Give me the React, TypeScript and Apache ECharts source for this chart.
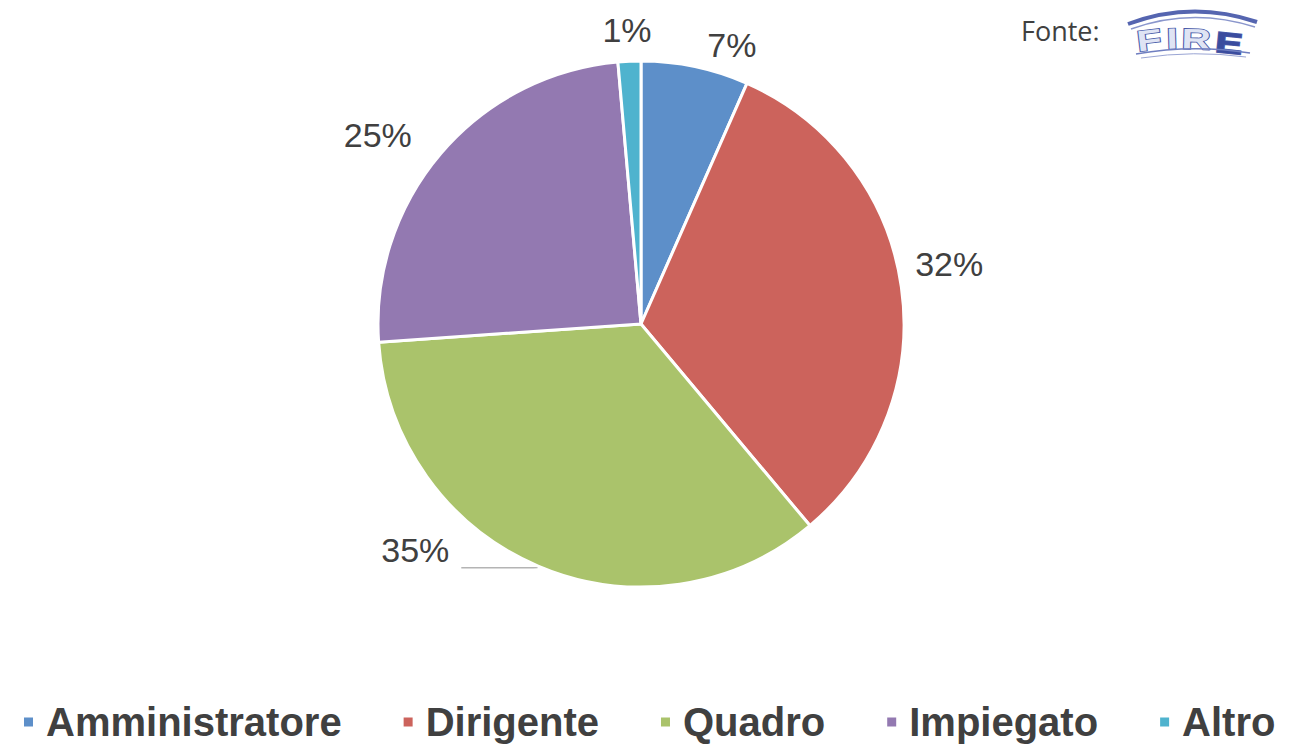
import React, { useEffect, useRef } from "react";
import * as echarts from "echarts";

const categories = ["Amministratore", "Dirigente", "Quadro", "Impiegato", "Altro"];
const values = [6.6, 32.3, 35.0, 24.7, 1.4];
const colors = ["#5D8FC9", "#CC635C", "#AAC36B", "#9379B1", "#4FB3CE"];
const sourceLabel = "Fonte:";
const logoLetters = ["F", "I", "R", "E"];

// label nudges (dx, dy) in pixels, per slice
const labelShift: number[][] = [[3, -2], [-11, -20], [0, -18], [-9, -5], [28, -11]];

export default function App() {
  const ref = useRef<HTMLDivElement>(null);
  useEffect(() => {
    if (!ref.current) return;
    const chart = echarts.init(ref.current, undefined, { renderer: "svg" });
    const data = categories.map((name, i) => {
      const item: any = { name, value: values[i], itemStyle: { color: colors[i] } };
      if (i === 2) {
        item.labelLine = {
          show: true,
          length: 2,
          length2: 76,
          smooth: 0.3,
          lineStyle: { color: "#b4b4b4", width: 1.5 },
        };
        item.label = { distanceToLabelLine: 12 };
      }
      return item;
    });
    const letterX = [1135, 1166, 1182, 1217];
    const letterY = [27, 24, 24, 27];
    const letterRot = [0.12, 0.03, -0.03, -0.1];
    const letters = logoLetters.map((t, i) => ({
      type: "text",
      x: letterX[i],
      y: letterY[i],
      rotation: letterRot[i],
      scaleX: 1.4,
      style: {
        text: t,
        fontSize: 29,
        fontWeight: "bold",
        fill: i === 3 ? "#3a4c9e" : "#dfe4f4",
        stroke: "#4a5aa8",
        lineWidth: 1.6,
        fontFamily: "Liberation Sans, Arial, sans-serif",
      },
    }));
    chart.setOption({
      animation: false,
      backgroundColor: "#ffffff",
      legend: {
        data: categories,
        left: 17,
        top: 697,
        width: 1272,
        icon: "rect",
        itemWidth: 11,
        itemHeight: 11,
        itemGap: 60,
        textStyle: {
          fontSize: 40,
          fontWeight: "bold",
          color: "#404040",
          fontFamily: "Liberation Sans, Arial, sans-serif",
          padding: [0, 0, 0, 7],
        },
      },
      graphic: [
        {
          type: "text",
          left: 1021,
          top: 17,
          style: {
            text: sourceLabel,
            fontSize: 27,
            fill: "#404040",
            fontFamily: "Open Sans, sans-serif",
          },
        },
        {
          type: "group",
          children: [
            { type: "bezierCurve", shape: { x1: 1128, y1: 24, x2: 1257, y2: 22, cpx1: 1192, cpy1: 0 }, style: { stroke: "#5565b0", lineWidth: 4, fill: "none" } },
            { type: "bezierCurve", shape: { x1: 1131, y1: 29, x2: 1255, y2: 27, cpx1: 1192, cpy1: 7 }, style: { stroke: "#8a96cc", lineWidth: 1.5, fill: "none" } },
            ...letters,
            { type: "bezierCurve", shape: { x1: 1136, y1: 54, x2: 1250, y2: 53, cpx1: 1193, cpy1: 44 }, style: { stroke: "#6f7ec0", lineWidth: 1.5, fill: "none" } },
            { type: "bezierCurve", shape: { x1: 1141, y1: 58, x2: 1246, y2: 57, cpx1: 1194, cpy1: 50 }, style: { stroke: "#9aa5d4", lineWidth: 1, fill: "none" } },
          ],
        },
      ],
      series: [
        {
          type: "pie",
          center: [641, 324],
          radius: 263,
          startAngle: 90,
          clockwise: true,
          avoidLabelOverlap: false,
          itemStyle: { borderColor: "#ffffff", borderWidth: 3 },
          label: {
            show: true,
            position: "outside",
            fontSize: 34,
            color: "#404040",
            fontFamily: "Liberation Sans, Arial, sans-serif",
            distanceToLabelLine: 5,
            formatter: (p: any) => Math.round(p.percent) + "%",
          },
          labelLine: { show: false, length: 20, length2: 0 },
          labelLayout: (params: any) => {
            const s = labelShift[params.dataIndex] || [0, 0];
            return { dx: s[0], dy: s[1] };
          },
          emphasis: { disabled: true },
          data,
        },
      ],
    });
    return () => chart.dispose();
  }, []);
  return (
    <div
      ref={ref}
      style={{ position: "fixed", left: 0, top: 0, width: 1289, height: 744, background: "#fff" }}
    />
  );
}
